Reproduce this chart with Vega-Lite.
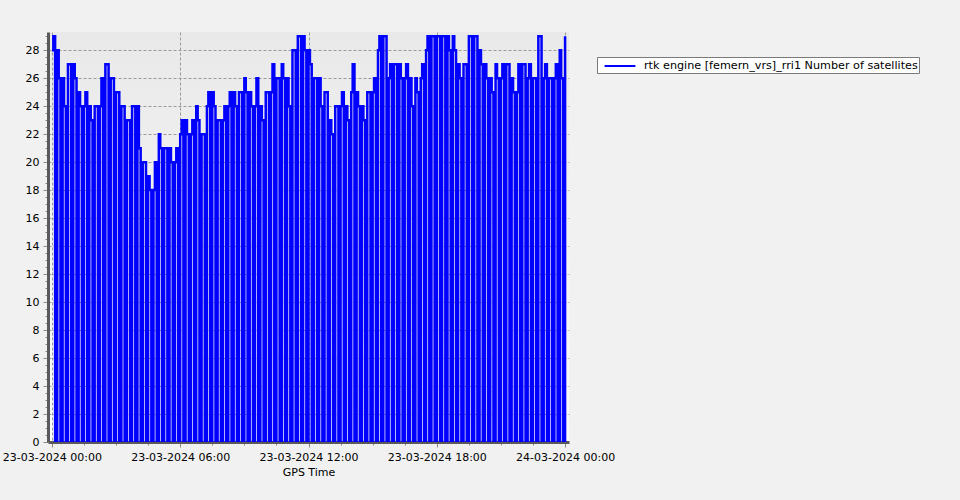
{
  "$schema": "https://vega.github.io/schema/vega-lite/v6.json",
  "autosize": {"type": "none"},
  "padding": {"left": 48, "top": 32, "right": 391, "bottom": 58},
  "width": 521,
  "height": 410,
  "background": "#f1f1f1",
  "view": {"stroke": null, "fill": {"gradient": "linear", "x1": 0, "y1": 0, "x2": 0, "y2": 1, "stops": [{"offset": 0, "color": "#e9e9e9"}, {"offset": 1, "color": "#fbfbfb"}]}},
  "config": {
    "font": "DejaVu Sans",
    "axis": {"labelFont": "DejaVu Sans", "labelFontSize": 11, "labelColor": "#000000", "titleFont": "DejaVu Sans", "titleFontSize": 11, "titleFontWeight": "normal", "titleColor": "#000000", "domainColor": "#5a5a5a", "domainWidth": 3, "tickColor": "#8a8a8a", "gridColor": "#9a9a9a", "gridDash": [3, 2], "gridWidth": 1}
  },
  "data": {"values": [
    {"t":"2024-03-23T00:00","v":28},{"t":"2024-03-23T00:04","v":29},{"t":"2024-03-23T00:09","v":0},
    {"t":"2024-03-23T00:15","v":28},{"t":"2024-03-23T00:19","v":26},{"t":"2024-03-23T00:24","v":0},
    {"t":"2024-03-23T00:30","v":26},{"t":"2024-03-23T00:34","v":24},{"t":"2024-03-23T00:39","v":0},
    {"t":"2024-03-23T00:45","v":27},{"t":"2024-03-23T00:49","v":27},{"t":"2024-03-23T00:54","v":0},
    {"t":"2024-03-23T01:00","v":27},{"t":"2024-03-23T01:04","v":26},{"t":"2024-03-23T01:09","v":0},
    {"t":"2024-03-23T01:15","v":25},{"t":"2024-03-23T01:19","v":24},{"t":"2024-03-23T01:24","v":0},
    {"t":"2024-03-23T01:30","v":24},{"t":"2024-03-23T01:34","v":25},{"t":"2024-03-23T01:39","v":0},
    {"t":"2024-03-23T01:45","v":24},{"t":"2024-03-23T01:49","v":23},{"t":"2024-03-23T01:54","v":0},
    {"t":"2024-03-23T02:00","v":24},{"t":"2024-03-23T02:04","v":24},{"t":"2024-03-23T02:09","v":0},
    {"t":"2024-03-23T02:15","v":24},{"t":"2024-03-23T02:19","v":26},{"t":"2024-03-23T02:24","v":0},
    {"t":"2024-03-23T02:30","v":27},{"t":"2024-03-23T02:34","v":27},{"t":"2024-03-23T02:39","v":0},
    {"t":"2024-03-23T02:45","v":26},{"t":"2024-03-23T02:49","v":26},{"t":"2024-03-23T02:54","v":0},
    {"t":"2024-03-23T03:00","v":25},{"t":"2024-03-23T03:04","v":25},{"t":"2024-03-23T03:09","v":0},
    {"t":"2024-03-23T03:15","v":24},{"t":"2024-03-23T03:19","v":24},{"t":"2024-03-23T03:24","v":0},
    {"t":"2024-03-23T03:30","v":23},{"t":"2024-03-23T03:34","v":23},{"t":"2024-03-23T03:39","v":0},
    {"t":"2024-03-23T03:45","v":24},{"t":"2024-03-23T03:49","v":24},{"t":"2024-03-23T03:54","v":0},
    {"t":"2024-03-23T04:00","v":24},{"t":"2024-03-23T04:04","v":21},{"t":"2024-03-23T04:09","v":0},
    {"t":"2024-03-23T04:15","v":20},{"t":"2024-03-23T04:19","v":20},{"t":"2024-03-23T04:24","v":0},
    {"t":"2024-03-23T04:30","v":19},{"t":"2024-03-23T04:34","v":18},{"t":"2024-03-23T04:39","v":0},
    {"t":"2024-03-23T04:45","v":18},{"t":"2024-03-23T04:49","v":20},{"t":"2024-03-23T04:54","v":0},
    {"t":"2024-03-23T05:00","v":22},{"t":"2024-03-23T05:04","v":21},{"t":"2024-03-23T05:09","v":0},
    {"t":"2024-03-23T05:15","v":21},{"t":"2024-03-23T05:19","v":21},{"t":"2024-03-23T05:24","v":0},
    {"t":"2024-03-23T05:30","v":21},{"t":"2024-03-23T05:34","v":20},{"t":"2024-03-23T05:39","v":0},
    {"t":"2024-03-23T05:45","v":20},{"t":"2024-03-23T05:49","v":21},{"t":"2024-03-23T05:54","v":0},
    {"t":"2024-03-23T06:00","v":22},{"t":"2024-03-23T06:04","v":23},{"t":"2024-03-23T06:09","v":0},
    {"t":"2024-03-23T06:15","v":23},{"t":"2024-03-23T06:19","v":22},{"t":"2024-03-23T06:24","v":0},
    {"t":"2024-03-23T06:30","v":22},{"t":"2024-03-23T06:34","v":23},{"t":"2024-03-23T06:39","v":0},
    {"t":"2024-03-23T06:45","v":24},{"t":"2024-03-23T06:49","v":23},{"t":"2024-03-23T06:54","v":0},
    {"t":"2024-03-23T07:00","v":22},{"t":"2024-03-23T07:04","v":22},{"t":"2024-03-23T07:09","v":0},
    {"t":"2024-03-23T07:15","v":24},{"t":"2024-03-23T07:19","v":25},{"t":"2024-03-23T07:24","v":0},
    {"t":"2024-03-23T07:30","v":25},{"t":"2024-03-23T07:34","v":24},{"t":"2024-03-23T07:39","v":0},
    {"t":"2024-03-23T07:45","v":23},{"t":"2024-03-23T07:49","v":23},{"t":"2024-03-23T07:54","v":0},
    {"t":"2024-03-23T08:00","v":23},{"t":"2024-03-23T08:04","v":24},{"t":"2024-03-23T08:09","v":0},
    {"t":"2024-03-23T08:15","v":24},{"t":"2024-03-23T08:19","v":25},{"t":"2024-03-23T08:24","v":0},
    {"t":"2024-03-23T08:30","v":25},{"t":"2024-03-23T08:34","v":24},{"t":"2024-03-23T08:39","v":0},
    {"t":"2024-03-23T08:45","v":25},{"t":"2024-03-23T08:49","v":25},{"t":"2024-03-23T08:54","v":0},
    {"t":"2024-03-23T09:00","v":26},{"t":"2024-03-23T09:04","v":25},{"t":"2024-03-23T09:09","v":0},
    {"t":"2024-03-23T09:15","v":25},{"t":"2024-03-23T09:19","v":24},{"t":"2024-03-23T09:24","v":0},
    {"t":"2024-03-23T09:30","v":24},{"t":"2024-03-23T09:34","v":26},{"t":"2024-03-23T09:39","v":0},
    {"t":"2024-03-23T09:45","v":24},{"t":"2024-03-23T09:49","v":23},{"t":"2024-03-23T09:54","v":0},
    {"t":"2024-03-23T10:00","v":25},{"t":"2024-03-23T10:04","v":25},{"t":"2024-03-23T10:09","v":0},
    {"t":"2024-03-23T10:15","v":25},{"t":"2024-03-23T10:19","v":27},{"t":"2024-03-23T10:24","v":0},
    {"t":"2024-03-23T10:30","v":26},{"t":"2024-03-23T10:34","v":26},{"t":"2024-03-23T10:39","v":0},
    {"t":"2024-03-23T10:45","v":27},{"t":"2024-03-23T10:49","v":26},{"t":"2024-03-23T10:54","v":0},
    {"t":"2024-03-23T11:00","v":26},{"t":"2024-03-23T11:04","v":24},{"t":"2024-03-23T11:09","v":0},
    {"t":"2024-03-23T11:15","v":28},{"t":"2024-03-23T11:19","v":28},{"t":"2024-03-23T11:24","v":0},
    {"t":"2024-03-23T11:30","v":29},{"t":"2024-03-23T11:34","v":29},{"t":"2024-03-23T11:39","v":0},
    {"t":"2024-03-23T11:45","v":29},{"t":"2024-03-23T11:49","v":28},{"t":"2024-03-23T11:54","v":0},
    {"t":"2024-03-23T12:00","v":28},{"t":"2024-03-23T12:04","v":27},{"t":"2024-03-23T12:09","v":0},
    {"t":"2024-03-23T12:15","v":26},{"t":"2024-03-23T12:19","v":26},{"t":"2024-03-23T12:24","v":0},
    {"t":"2024-03-23T12:30","v":26},{"t":"2024-03-23T12:34","v":24},{"t":"2024-03-23T12:39","v":0},
    {"t":"2024-03-23T12:45","v":25},{"t":"2024-03-23T12:49","v":25},{"t":"2024-03-23T12:54","v":0},
    {"t":"2024-03-23T13:00","v":23},{"t":"2024-03-23T13:04","v":22},{"t":"2024-03-23T13:09","v":0},
    {"t":"2024-03-23T13:15","v":24},{"t":"2024-03-23T13:19","v":24},{"t":"2024-03-23T13:24","v":0},
    {"t":"2024-03-23T13:30","v":24},{"t":"2024-03-23T13:34","v":25},{"t":"2024-03-23T13:39","v":0},
    {"t":"2024-03-23T13:45","v":24},{"t":"2024-03-23T13:49","v":23},{"t":"2024-03-23T13:54","v":0},
    {"t":"2024-03-23T14:00","v":25},{"t":"2024-03-23T14:04","v":27},{"t":"2024-03-23T14:09","v":0},
    {"t":"2024-03-23T14:15","v":25},{"t":"2024-03-23T14:19","v":24},{"t":"2024-03-23T14:24","v":0},
    {"t":"2024-03-23T14:30","v":24},{"t":"2024-03-23T14:34","v":23},{"t":"2024-03-23T14:39","v":0},
    {"t":"2024-03-23T14:45","v":25},{"t":"2024-03-23T14:49","v":25},{"t":"2024-03-23T14:54","v":0},
    {"t":"2024-03-23T15:00","v":25},{"t":"2024-03-23T15:04","v":26},{"t":"2024-03-23T15:09","v":0},
    {"t":"2024-03-23T15:15","v":28},{"t":"2024-03-23T15:19","v":29},{"t":"2024-03-23T15:24","v":0},
    {"t":"2024-03-23T15:30","v":29},{"t":"2024-03-23T15:34","v":29},{"t":"2024-03-23T15:39","v":0},
    {"t":"2024-03-23T15:45","v":26},{"t":"2024-03-23T15:49","v":27},{"t":"2024-03-23T15:54","v":0},
    {"t":"2024-03-23T16:00","v":27},{"t":"2024-03-23T16:04","v":27},{"t":"2024-03-23T16:09","v":0},
    {"t":"2024-03-23T16:15","v":27},{"t":"2024-03-23T16:19","v":26},{"t":"2024-03-23T16:24","v":0},
    {"t":"2024-03-23T16:30","v":26},{"t":"2024-03-23T16:34","v":27},{"t":"2024-03-23T16:39","v":0},
    {"t":"2024-03-23T16:45","v":26},{"t":"2024-03-23T16:49","v":24},{"t":"2024-03-23T16:54","v":0},
    {"t":"2024-03-23T17:00","v":26},{"t":"2024-03-23T17:04","v":25},{"t":"2024-03-23T17:09","v":0},
    {"t":"2024-03-23T17:15","v":26},{"t":"2024-03-23T17:19","v":27},{"t":"2024-03-23T17:24","v":0},
    {"t":"2024-03-23T17:30","v":28},{"t":"2024-03-23T17:34","v":29},{"t":"2024-03-23T17:39","v":0},
    {"t":"2024-03-23T17:45","v":29},{"t":"2024-03-23T17:49","v":29},{"t":"2024-03-23T17:54","v":0},
    {"t":"2024-03-23T18:00","v":29},{"t":"2024-03-23T18:04","v":29},{"t":"2024-03-23T18:09","v":0},
    {"t":"2024-03-23T18:15","v":29},{"t":"2024-03-23T18:19","v":29},{"t":"2024-03-23T18:24","v":0},
    {"t":"2024-03-23T18:30","v":29},{"t":"2024-03-23T18:34","v":28},{"t":"2024-03-23T18:39","v":0},
    {"t":"2024-03-23T18:45","v":29},{"t":"2024-03-23T18:49","v":28},{"t":"2024-03-23T18:54","v":0},
    {"t":"2024-03-23T19:00","v":27},{"t":"2024-03-23T19:04","v":26},{"t":"2024-03-23T19:09","v":0},
    {"t":"2024-03-23T19:15","v":27},{"t":"2024-03-23T19:19","v":27},{"t":"2024-03-23T19:24","v":0},
    {"t":"2024-03-23T19:30","v":29},{"t":"2024-03-23T19:34","v":29},{"t":"2024-03-23T19:39","v":0},
    {"t":"2024-03-23T19:45","v":29},{"t":"2024-03-23T19:49","v":29},{"t":"2024-03-23T19:54","v":0},
    {"t":"2024-03-23T20:00","v":28},{"t":"2024-03-23T20:04","v":27},{"t":"2024-03-23T20:09","v":0},
    {"t":"2024-03-23T20:15","v":27},{"t":"2024-03-23T20:19","v":26},{"t":"2024-03-23T20:24","v":0},
    {"t":"2024-03-23T20:30","v":26},{"t":"2024-03-23T20:34","v":25},{"t":"2024-03-23T20:39","v":0},
    {"t":"2024-03-23T20:45","v":27},{"t":"2024-03-23T20:49","v":26},{"t":"2024-03-23T20:54","v":0},
    {"t":"2024-03-23T21:00","v":26},{"t":"2024-03-23T21:04","v":27},{"t":"2024-03-23T21:09","v":0},
    {"t":"2024-03-23T21:15","v":27},{"t":"2024-03-23T21:19","v":27},{"t":"2024-03-23T21:24","v":0},
    {"t":"2024-03-23T21:30","v":26},{"t":"2024-03-23T21:34","v":25},{"t":"2024-03-23T21:39","v":0},
    {"t":"2024-03-23T21:45","v":25},{"t":"2024-03-23T21:49","v":27},{"t":"2024-03-23T21:54","v":0},
    {"t":"2024-03-23T22:00","v":27},{"t":"2024-03-23T22:04","v":27},{"t":"2024-03-23T22:09","v":0},
    {"t":"2024-03-23T22:15","v":26},{"t":"2024-03-23T22:19","v":27},{"t":"2024-03-23T22:24","v":0},
    {"t":"2024-03-23T22:30","v":26},{"t":"2024-03-23T22:34","v":26},{"t":"2024-03-23T22:39","v":0},
    {"t":"2024-03-23T22:45","v":29},{"t":"2024-03-23T22:49","v":29},{"t":"2024-03-23T22:54","v":0},
    {"t":"2024-03-23T23:00","v":26},{"t":"2024-03-23T23:04","v":27},{"t":"2024-03-23T23:09","v":0},
    {"t":"2024-03-23T23:15","v":26},{"t":"2024-03-23T23:19","v":26},{"t":"2024-03-23T23:24","v":0},
    {"t":"2024-03-23T23:30","v":26},{"t":"2024-03-23T23:34","v":27},{"t":"2024-03-23T23:39","v":0},
    {"t":"2024-03-23T23:45","v":28},{"t":"2024-03-23T23:49","v":26},{"t":"2024-03-23T23:54","v":0},
    {"t":"2024-03-24T00:00","v":29}
  ]},
  "transform": [{"calculate": "'rtk engine [femern_vrs]_rri1 Number of satellites'", "as": "series"}],
  "mark": {"type": "line", "interpolate": "step-after", "strokeWidth": 2.5, "clip": true},
  "encoding": {
    "x": {
      "field": "t", "type": "temporal", "title": "GPS Time",
      "scale": {"domain": [{"year": 2024, "month": 3, "date": 22, "hours": 23, "minutes": 49}, {"year": 2024, "month": 3, "date": 24, "hours": 0, "minutes": 11}]},
      "axis": {
        "values": [
          {"year": 2024, "month": 3, "date": 23, "hours": 0, "minutes": 0},
          {"year": 2024, "month": 3, "date": 23, "hours": 1, "minutes": 30},
          {"year": 2024, "month": 3, "date": 23, "hours": 3, "minutes": 0},
          {"year": 2024, "month": 3, "date": 23, "hours": 4, "minutes": 30},
          {"year": 2024, "month": 3, "date": 23, "hours": 6, "minutes": 0},
          {"year": 2024, "month": 3, "date": 23, "hours": 7, "minutes": 30},
          {"year": 2024, "month": 3, "date": 23, "hours": 9, "minutes": 0},
          {"year": 2024, "month": 3, "date": 23, "hours": 10, "minutes": 30},
          {"year": 2024, "month": 3, "date": 23, "hours": 12, "minutes": 0},
          {"year": 2024, "month": 3, "date": 23, "hours": 13, "minutes": 30},
          {"year": 2024, "month": 3, "date": 23, "hours": 15, "minutes": 0},
          {"year": 2024, "month": 3, "date": 23, "hours": 16, "minutes": 30},
          {"year": 2024, "month": 3, "date": 23, "hours": 18, "minutes": 0},
          {"year": 2024, "month": 3, "date": 23, "hours": 19, "minutes": 30},
          {"year": 2024, "month": 3, "date": 23, "hours": 21, "minutes": 0},
          {"year": 2024, "month": 3, "date": 23, "hours": 22, "minutes": 30},
          {"year": 2024, "month": 3, "date": 24, "hours": 0, "minutes": 0}
        ],
        "format": "%d-%m-%Y %H:%M",
        "labelExpr": "(hours(datum.value) % 6 == 0 && minutes(datum.value) == 0) ? datum.label : ''",
        "labelOverlap": false,
        "labelFlush": false,
        "labelPadding": 4,
        "titlePadding": 4,
        "tickSize": {"condition": {"test": "hours(datum.value) % 6 == 0 && minutes(datum.value) == 0", "value": 5}, "value": 3},
        "gridOpacity": {"condition": {"test": "hours(datum.value) % 6 == 0 && minutes(datum.value) == 0", "value": 1}, "value": 0},
        "grid": true
      }
    },
    "y": {
      "field": "v", "type": "quantitative", "title": null,
      "scale": {"domain": [0, 29.3], "nice": false, "zero": true},
      "axis": {
        "values": [0,0.5,1,1.5,2,2.5,3,3.5,4,4.5,5,5.5,6,6.5,7,7.5,8,8.5,9,9.5,10,10.5,11,11.5,12,12.5,13,13.5,14,14.5,15,15.5,16,16.5,17,17.5,18,18.5,19,19.5,20,20.5,21,21.5,22,22.5,23,23.5,24,24.5,25,25.5,26,26.5,27,27.5,28,28.5,29],
        "format": ".0f",
        "labelExpr": "datum.value % 2 == 0 ? datum.label : ''",
        "labelOverlap": false,
        "labelFlush": false,
        "labelPadding": 4,
        "tickSize": {"condition": {"test": "datum.value % 2 == 0", "value": 5}, "value": 3},
        "gridOpacity": {"condition": {"test": "datum.value % 2 == 0 && datum.value > 0", "value": 1}, "value": 0},
        "grid": true
      }
    },
    "color": {
      "field": "series", "type": "nominal",
      "scale": {"range": ["#0000ff"]},
      "legend": {
        "title": null, "orient": "none", "legendX": 549, "legendY": 25,
        "fillColor": "#ffffff", "strokeColor": "#7a7a7a", "padding": 1,
        "labelFont": "DejaVu Sans", "labelFontSize": 11.2, "labelColor": "#000000", "labelLimit": 400,
        "symbolType": "M-2.2,0H2.2", "symbolSize": 196, "symbolStrokeWidth": 2, "symbolOffset": 14, "labelOffset": 16
      }
    }
  }
}
